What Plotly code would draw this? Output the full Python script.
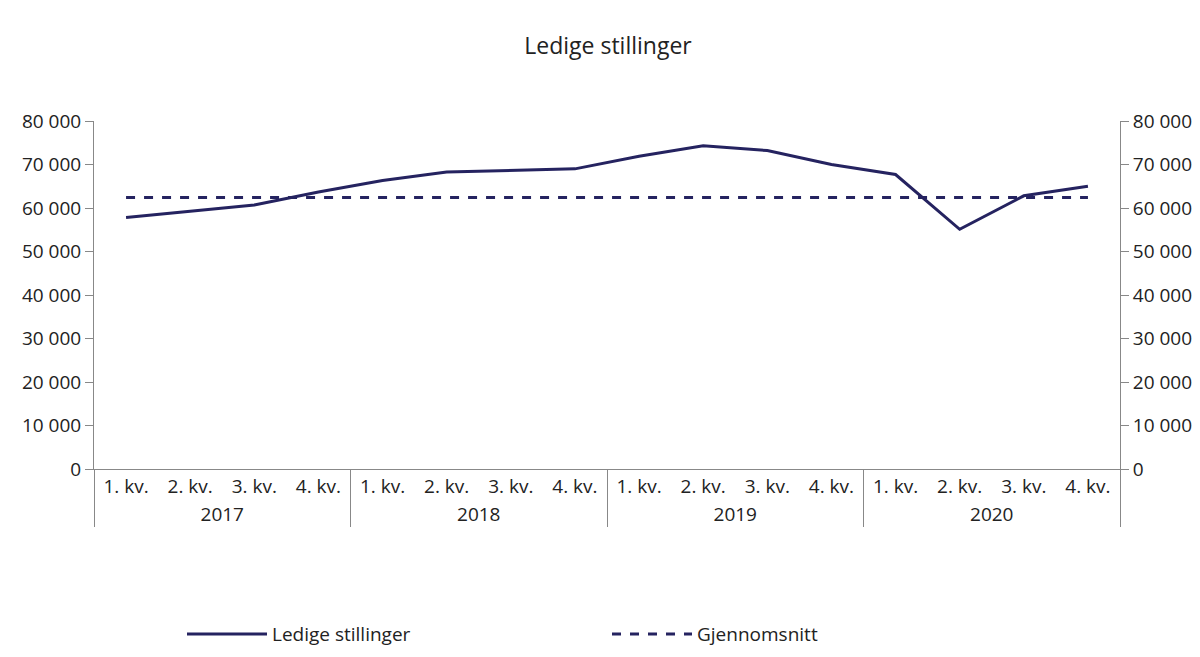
import plotly.graph_objects as go

years = ["2017"]*4 + ["2018"]*4 + ["2019"]*4 + ["2020"]*4
quarters = ["1. kv.", "2. kv.", "3. kv.", "4. kv."]*4
ledige = [57800, 59200, 60700, 63700, 66300, 68300, 68700, 69000,
          71900, 74300, 73200, 70000, 67700, 55100, 62800, 65000]
snitt = [62400]*16

color = "#252360"
fig = go.Figure()
fig.add_trace(go.Scatter(x=[years, quarters], y=ledige, mode="lines", name="Ledige stillinger",
                         line=dict(color=color, width=3)))
fig.add_trace(go.Scatter(x=[years, quarters], y=snitt, mode="lines", name="Gjennomsnitt",
                         line=dict(color=color, width=3, dash="dash")))
fig.add_trace(go.Scatter(x=[years, quarters], y=snitt, yaxis="y2", showlegend=False,
                         hoverinfo="skip", line=dict(width=0), opacity=0))

yax = dict(range=[0, 80000], tickvals=list(range(0, 80001, 10000)), tickformat=",d",
           showgrid=False, zeroline=False, showline=True, linecolor="#888",
           ticks="outside", ticklen=8, tickcolor="#888", tickfont=dict(size=19, color="#222"))
fig.update_layout(
    width=1200, height=657, separators=", ",
    font=dict(family="Open Sans", color="#222"),
    title=dict(text="Ledige stillinger", x=0.5, y=0.955, font=dict(size=23)),
    plot_bgcolor="white", paper_bgcolor="white",
    margin=dict(l=86, r=88, t=113, b=188),
    xaxis=dict(range=[-0.5, 15.5], showgrid=False, showline=True, linecolor="#888", ticks="",
               tickfont=dict(size=19, color="#222"), showdividers=True,
               dividercolor="#888", dividerwidth=1),
    yaxis=yax,
    yaxis2=dict(yax, overlaying="y", side="right", matches="y"),
    legend=dict(orientation="h", x=0.5, xanchor="center", y=-0.42, yanchor="top",
                font=dict(size=19), itemwidth=80, entrywidth=330),
)
fig.write_html("out.html")
